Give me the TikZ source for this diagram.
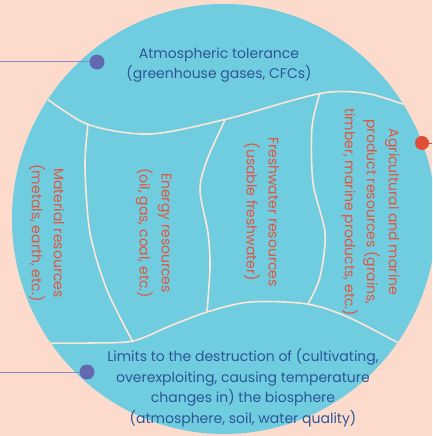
\documentclass[tikz,border=0pt]{standalone}
\usepackage{fontspec}
\setmainfont{Poppins}
\definecolor{peach}{HTML}{FCDBCD}
\definecolor{sky}{HTML}{6FCDDF}
\definecolor{seam}{HTML}{FCE6D9}
\definecolor{navytext}{HTML}{2C5697}
\definecolor{redtext}{HTML}{E2553E}
\definecolor{dotblue}{HTML}{6468B1}
\definecolor{linkblue}{HTML}{8A88C6}
\definecolor{dotred}{HTML}{DE4F35}

\begin{document}
\begin{tikzpicture}[x=1pt,y=-1pt,
  every node/.style={inner sep=0pt, outer sep=0pt},
  flattext/.style={text=navytext, align=center, font=\fontsize{14}{20.5}\selectfont},
  sidetext/.style={text=redtext, align=center, rotate=-90, font=\fontsize{14}{22}\selectfont},
  dot/.style={circle, fill=dotblue, minimum size=15pt},
  seamline/.style={seam, line width=1.6pt}]
\fill[peach] (0,0) rectangle (432,436);
\useasboundingbox (0,0) rectangle (432,436);
\clip (0,0) rectangle (432,436);

\fill[sky] (224,219) ellipse[x radius=212, y radius=215];

\begin{scope}
\clip (224,219) ellipse[x radius=212, y radius=215];
\draw[seamline] plot[smooth] coordinates {(38,92) (87,124) (150,134) (227,119) (290,101) (330,92) (370,94) (420,110)};
\draw[seamline] plot[smooth] coordinates {(38,343) (90,343) (133,341) (170,326) (207,312) (250,302) (307,304) (350,318) (415,352)};
\draw[seamline] plot[smooth] coordinates {(88,124) (85,167) (90,233) (107,290) (133,342)};
\draw[seamline] plot[smooth] coordinates {(225,120) (207,160) (200,190) (208,233) (210,267) (207,312)};
\draw[seamline] plot[smooth] coordinates {(320,93) (312,127) (313,183) (325,233) (320,277) (308,304)};
\end{scope}

\node[flattext] (atmos) at (219,65) {Atmospheric tolerance\\(greenhouse gases, CFCs)};
\node[flattext] (limits) at (243,388) {Limits to the destruction of (cultivating,\\overexploiting, causing temperature\\changes in) the biosphere\\(atmosphere, soil, water quality)};

\node[sidetext] (material) at (47,233) {Material resources\\(metals, earth, etc.)};
\node[sidetext] (energy) at (153.5,233) {Energy resources\\(oil, gas, coal, etc.)};
\node[sidetext] (fresh) at (261.5,212) {Freshwater resources\\(usable freshwater)};
\node[sidetext] (agri) at (370.5,212) {Agricultural and marine\\product resources (grains,\\timber, marine products, etc.)};

\coordinate (atmend) at (0,62);
\coordinate (limend) at (0,372);
\coordinate (agriend) at (432,143);
\node[dot] (atmdot) at (97,62) {};
\node[dot] (limdot) at (87,372) {};
\node[dot, fill=dotred, minimum size=14pt] (agridot) at (422,143) {};
\draw[linkblue, line width=1pt] (atmend) -- (atmdot);
\draw[linkblue, line width=1pt] (limend) -- (limdot);
\draw[dotred, line width=1pt] (agridot) -- (agriend);
\end{tikzpicture}
\end{document}
